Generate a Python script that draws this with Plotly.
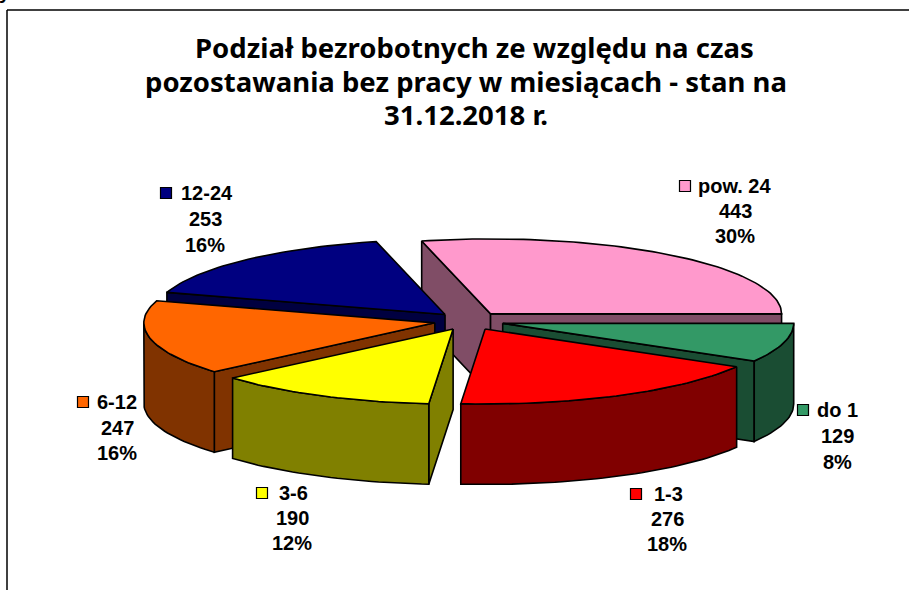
import math
import plotly.graph_objects as go

# --- data ---
categories = ["do 1", "1-3", "3-6", "6-12", "12-24", "pow. 24"]
values = [129, 276, 190, 247, 253, 443]
percent_labels = ["8%", "18%", "12%", "16%", "16%", "30%"]
title_lines = ["Podział bezrobotnych ze względu na czas",
               "pozostawania bez pracy w miesiącach - stan na",
               "31.12.2018 r."]

# --- styles ---
top_colors = ["#339966", "#FF0000", "#FFFF00", "#FF6600", "#000080", "#FF99CC"]
wall_colors = ["#1A4D33", "#800000", "#808000", "#803300", "#000040", "#804D66"]
paint_order = [5, 4, 3, 0, 2, 1]

# --- projection of the exploded pie ---
CX, CY, RX, RY, EXPLODE, DEPTH = 469.0, 321.0, 291.0, 75.0, 0.12, 80.5

# label layout: key x, name left x, centre x of number lines, first line y, line step
label_pos = [(803, 815, 837, 410, 26), (636, 652, 667, 494, 25), (262, 277, 292, 493, 25),
             (83, 95, 117, 402, 25.5), (166, 179, 205, 193, 26), (685, 696, 735, 186, 25)]
title_pos = [(474, 47), (465.5, 81), (466, 114)]

fig = go.Figure()


def poly(xs, ys, fill):
    fig.add_trace(go.Scatter(x=xs, y=ys, mode="lines", fill="toself", fillcolor=fill,
                             line=dict(color="black", width=1.6), hoverinfo="skip",
                             showlegend=False))


def arc(ax, ay, a, b, dz=0.0):
    n = max(2, int(abs(b - a) * 40))
    ts = [a + (b - a) * i / n for i in range(n + 1)]
    return [ax + RX * math.cos(t) for t in ts], [ay + RY * math.sin(t) + dz for t in ts]


total = sum(values)
angles = [0.0]
for v in values:
    angles.append(angles[-1] + 2 * math.pi * v / total)

for i in paint_order:
    a, b = angles[i], angles[i + 1]
    mid = (a + b) / 2
    ax = CX + EXPLODE * RX * math.cos(mid)
    ay = CY + EXPLODE * RY * math.sin(mid)
    wall = wall_colors[i]
    # radial walls that face the viewer
    for edge, visible in ((a, math.cos(a) < 0), (b, math.cos(b) > 0)):
        if visible:
            ex, ey = ax + RX * math.cos(edge), ay + RY * math.sin(edge)
            poly([ax, ex, ex, ax, ax], [ay, ey, ey + DEPTH, ay + DEPTH, ay], wall)
    # outer rim on the front half of the ellipse
    ra, rb = max(a, 0.0), min(b, math.pi)
    if rb > ra:
        xs, ys = arc(ax, ay, ra, rb)
        xb, yb = arc(ax, ay, rb, ra, DEPTH)
        poly(xs + xb + xs[:1], ys + yb + ys[:1], wall)
    # top face
    xs, ys = arc(ax, ay, a, b)
    poly([ax] + xs + [ax], [ay] + ys + [ay], top_colors[i])

# legend keys
for i, (kx, nx, cx, y0, dy) in enumerate(label_pos):
    fig.add_trace(go.Scatter(x=[kx], y=[y0], mode="markers", hoverinfo="skip", showlegend=False,
                             marker=dict(symbol="square", size=11, color=top_colors[i],
                                         line=dict(color="black", width=1.2))))

font_lbl = dict(family="Liberation Sans", size=20, color="black")
annos = []
for i, (kx, nx, cx, y0, dy) in enumerate(label_pos):
    annos.append(dict(x=nx, y=y0, text=f"<b>{categories[i]}</b>", xanchor="left", yanchor="middle",
                      showarrow=False, font=font_lbl, xref="x", yref="y"))
    annos.append(dict(x=cx, y=y0 + dy, text=f"<b>{values[i]}</b>", xanchor="center", yanchor="middle",
                      showarrow=False, font=font_lbl, xref="x", yref="y"))
    annos.append(dict(x=cx, y=y0 + 2 * dy, text=f"<b>{percent_labels[i]}</b>", xanchor="center",
                      yanchor="middle", showarrow=False, font=font_lbl, xref="x", yref="y"))
for line, (tx, ty) in zip(title_lines, title_pos):
    annos.append(dict(x=tx, y=ty, text=f"<b>{line}</b>", xanchor="center", yanchor="middle",
                      showarrow=False, xref="x", yref="y",
                      font=dict(family="Noto Sans", size=27.5, color="black")))
# tail of a cropped letter above the frame in the top-left corner
annos.append(dict(x=0.0055, y=1, text="<b>y</b>", xref="paper", yref="paper", xanchor="center",
                  yanchor="middle", yshift=8, showarrow=False,
                  font=dict(family="Liberation Sans", size=20, color="black")))

fig.update_layout(
    width=909, height=590, margin=dict(l=0, r=0, t=0, b=0),
    paper_bgcolor="white", plot_bgcolor="white", showlegend=False,
    xaxis=dict(range=[0, 909], visible=False, domain=[0, 1]),
    yaxis=dict(range=[590, 0], visible=False, domain=[0, 1]),
    annotations=annos,
    shapes=[dict(type="line", xref="x", yref="y", x0=7, x1=7, y0=10, y1=590, line=dict(color="black", width=1.5)),
            dict(type="line", xref="x", yref="y", x0=7, x1=909, y0=10, y1=10, line=dict(color="black", width=1.5))],
)
fig.write_html("out.html", config={"displayModeBar": False},
               post_script="document.body.style.margin='0';document.body.style.overflow='hidden';")
